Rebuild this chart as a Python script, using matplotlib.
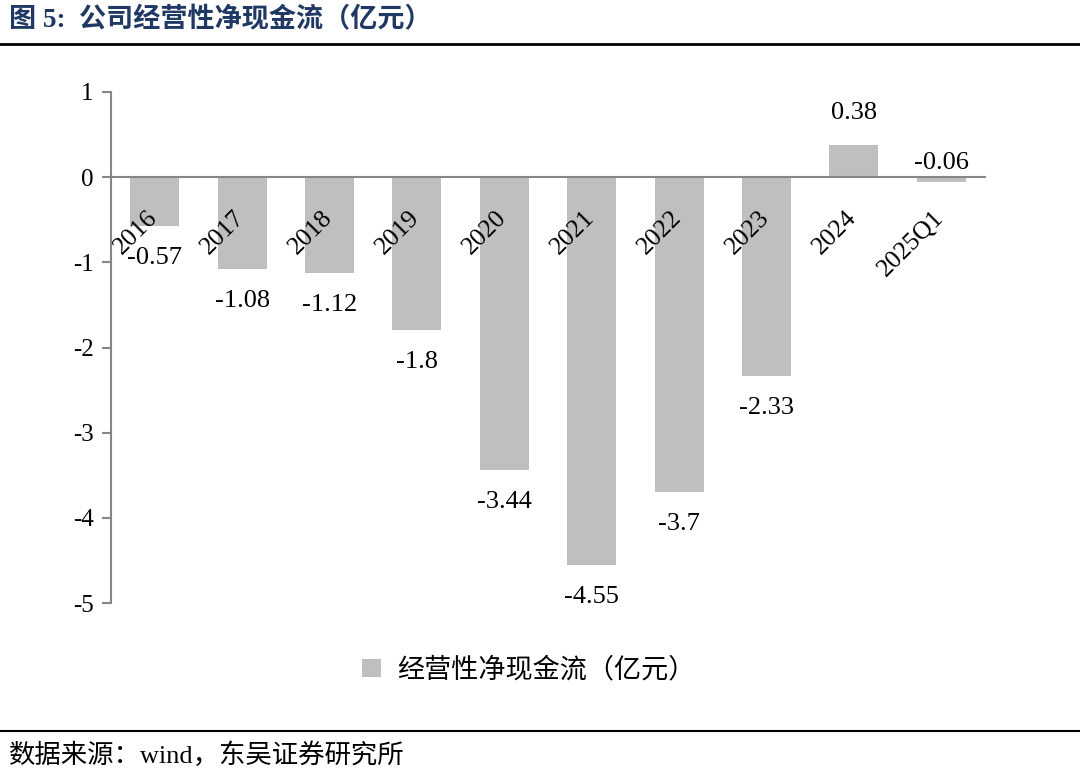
import matplotlib.pyplot as plt
from matplotlib.patches import Patch
from matplotlib.lines import Line2D
from matplotlib.transforms import ScaledTranslation

# data
CATEGORIES = ['2016', '2017', '2018', '2019', '2020', '2021', '2022', '2023', '2024', '2025Q1']
CASH_FLOW = [-0.57, -1.08, -1.12, -1.8, -3.44, -4.55, -3.7, -2.33, 0.38, -0.06]
LABELS = ['-0.57', '-1.08', '-1.12', '-1.8', '-3.44', '-4.55', '-3.7', '-2.33', '0.38', '-0.06']
SERIES_NAME = '经营性净现金流（亿元）'
TITLE = '图 5:  公司经营性净现金流（亿元）'
SOURCE = '数据来源：wind，东吴证券研究所'

BAR_COLOR = '#BFBFBF'
AXIS_COLOR = '#868686'


def main():
    plt.rcParams['font.family'] = ['Liberation Serif', 'Noto Sans CJK SC']
    fig = plt.figure(figsize=(10.8, 7.75), dpi=100)
    ax = fig.add_axes([0.1028, 0.2219, 0.912 - 0.1028, 0.8813 - 0.2219])

    x = list(range(len(CATEGORIES)))
    ax.bar(x, CASH_FLOW, width=0.56, color=BAR_COLOR, zorder=1)

    # value labels: below negative bars, above positive / near-zero ones
    for i, (v, lab) in enumerate(zip(CASH_FLOW, LABELS)):
        if v > 0:
            ax.annotate(lab, (i, v), xytext=(0, 23), textcoords='offset points',
                        ha='center', va='center', fontsize=19)
        elif v > -0.1:
            ax.annotate(lab, (i, 0), xytext=(0, 10), textcoords='offset points',
                        ha='center', va='center', fontsize=19)
        else:
            ax.annotate(lab, (i, v), xytext=(0, -23), textcoords='offset points',
                        ha='center', va='center', fontsize=19)

    for side in ['top', 'right']:
        ax.spines[side].set_visible(False)
    ax.spines['bottom'].set_position(('data', 0))
    ax.spines['bottom'].set_color(AXIS_COLOR)
    ax.spines['bottom'].set_linewidth(1.5)
    ax.spines['left'].set_color(AXIS_COLOR)
    ax.spines['left'].set_linewidth(1.5)

    ax.set_xlim(-0.5, len(CATEGORIES) - 0.5)
    ax.set_ylim(-5, 1)
    ax.set_yticks([1, 0, -1, -2, -3, -4, -5])
    ax.set_yticklabels(['1', '0', '-1', '-2', '-3', '-4', '-5'])

    ax.set_xticks(x)
    ax.set_xticklabels(CATEGORIES, rotation=45, ha='right', va='top', fontsize=18.5)
    ax.tick_params(axis='x', length=0, pad=21)
    ax.tick_params(axis='y', length=6.5, width=1.5, color=AXIS_COLOR, pad=6, labelsize=18)
    shift = ScaledTranslation(7 / 100, 0, fig.dpi_scale_trans)
    for lab in ax.get_xticklabels():
        lab.set_transform(lab.get_transform() + shift)

    handle = Patch(facecolor=BAR_COLOR, edgecolor='none')
    fig.legend([handle], [SERIES_NAME], loc='center', bbox_to_anchor=(0.49, 0.1355),
               frameon=False, handlelength=0.7, handleheight=0.7, handletextpad=0.6,
               prop={'family': ['Noto Sans CJK SC'], 'size': 19.5, 'weight': 'medium'})

    # title and source with rules
    fig.text(0.008, 1 - 20 / 775, TITLE, ha='left', va='center', fontsize=19.5,
             fontweight='bold', color='#1F3864')
    fig.add_artist(Line2D([0, 1], [1 - 44 / 775, 1 - 44 / 775], color='black', linewidth=2))
    fig.add_artist(Line2D([0, 1], [1 - 731 / 775, 1 - 731 / 775], color='black', linewidth=1.5))
    fig.text(0.008, 1 - 755 / 775, SOURCE, ha='left', va='center', fontsize=19)

    fig.savefig('out.png', dpi=100)


if __name__ == '__main__':
    main()
